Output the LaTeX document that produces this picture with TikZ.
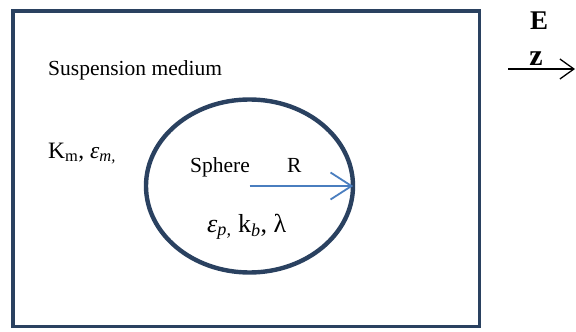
\documentclass[tikz,border=0pt]{standalone}
\usepackage{fontspec}
\setmainfont{Liberation Serif}
\usepackage{xcolor}
\usetikzlibrary{arrows.meta,positioning,shapes.geometric}

\definecolor{navy}{HTML}{2A4160}
\definecolor{radblue}{HTML}{4A7EBF}

\tikzset{
  wall/.style={draw=navy,line width=3.8pt},
  lbl/.style={inner sep=0pt,anchor=base west,font=\fontsize{21.5}{24}\selectfont}
}

\begin{document}
\begin{tikzpicture}[x=1pt,y=-1pt]
\useasboundingbox (0,0) rectangle (576,332);
% Medium box
\draw[wall] (13,11) rectangle (479.5,326.5);
\node[lbl] (medium) at (48,75) {Suspension medium};
\node[lbl,font=\fontsize{23.5}{26}\selectfont] (kmem) at (48,158)
  {K\textsubscript{m}, \textit{ε\textsubscript{m,}}};
% Sphere
\node[wall,line width=4.4pt,ellipse,minimum width=207,minimum height=173,inner sep=0pt] (sphere) at (249.5,186) {};
\node[lbl] (spherelbl) at (190,172) {Sphere};
\node[lbl] (radlbl) at (287,172) {R};
\draw[radblue,line width=1.8pt,shorten >=2pt,-{Straight Barb[length=21pt,width=27pt,line width=1.8pt]}]
  (sphere.center) -- (sphere.east);
\node[lbl,font=\fontsize{26}{29}\selectfont] (props) at (207,232)
  {\textit{ε\textsubscript{p,}} k\textsubscript{\textit{b}}, λ};
% Field direction
\node[font=\bfseries\fontsize{27}{30}\selectfont,inner sep=0pt,anchor=base] (efield) at (539,29) {E};
\coordinate (zstart) at (508,69);
\coordinate (zend) at (575,69);
\draw[line width=1.3pt,-{Straight Barb[length=14pt,width=20pt,line width=1.3pt]}] (zstart) -- (zend);
\node[font=\bfseries\fontsize{30}{33}\selectfont,inner sep=0pt,anchor=base] (zlbl) at (536,65) {z};
\end{tikzpicture}
\end{document}
